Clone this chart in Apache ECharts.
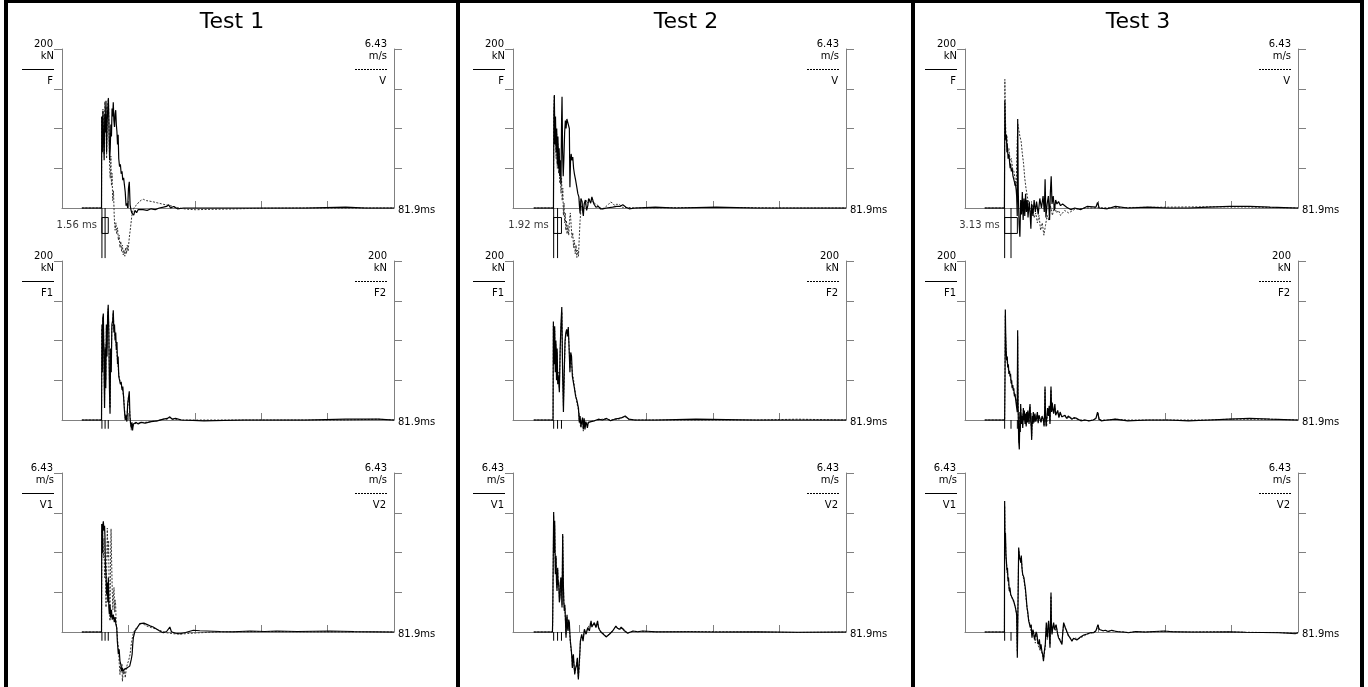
<!DOCTYPE html>
<html>
<head>
<meta charset="utf-8">
<script src="https://cdn.jsdelivr.net/npm/echarts@6/dist/echarts.min.js"></script>
<style>
  html, body { margin: 0; padding: 0; background: #fff; }
  #chart { width: 1368px; height: 687px; }
</style>
</head>
<body>
<div id="chart"></div>
<script>
// ---- data (time in ms, force in kN, velocity in m/s) ----
const tests = ['Test 1', 'Test 2', 'Test 3'];
const durLabels = ['1.56 ms', '1.92 ms', '3.13 ms'];
const markStart = [9.85, 10.0, 9.75];
const markDur = [1.56, 1.92, 3.13];
const timeMax = 81.9;
const timeMaxLabel = '81.9ms';
const timeTicks = [16.38, 32.76, 49.14, 65.52];
const forceMax = 200;
const velMax = 6.43;
const rowNames = [['F', 'V'], ['F1', 'F2'], ['V1', 'V2']];
const rowUnits = [['kN', 'm/s'], ['kN', 'kN'], ['m/s', 'm/s']];
const rowMaxLabels = [['200', '6.43'], ['200', '200'], ['6.43', '6.43']];

// Test 1
const t1F = [[4.9,0],[9.75,0],[9.8,115],[9.95,70],[10.1,122],[10.25,85],[10.4,60],[10.55,118],[10.7,95],[10.85,135],[11.0,70],[11.15,110],[11.3,125],[11.45,138],[11.6,100],[11.75,60],[11.9,75],[12.05,105],[12.2,90],[12.35,125],[12.5,115],[12.65,133],[12.8,110],[12.95,102],[13.1,118],[13.25,123],[13.4,105],[13.55,96],[13.7,80],[13.85,92],[14.0,62],[14.2,52],[14.4,55],[14.6,43],[14.8,46],[15.0,35],[15.2,38],[15.4,29],[15.6,20],[15.8,3],[16.0,6],[16.2,0],[16.4,25],[16.6,33],[16.8,4],[17.0,-2],[17.2,-6],[17.45,-5],[17.7,-9],[18.0,-3],[18.4,-6],[18.8,-2],[19.2,-4],[20,-2],[21,-3],[22,-1],[23,-2],[24,0],[25,1],[25.8,2],[26.3,4],[26.8,0],[27.5,2],[28.5,-1],[30,0],[35,0],[45,0],[60,0],[70,1],[75,0],[81.9,0]];
const t1V = [[4.9,0],[9.75,0],[9.8,3.7],[9.95,2.6],[10.1,4.0],[10.25,3.1],[10.4,2.2],[10.55,4.3],[10.7,3.5],[10.85,4.1],[11.0,2.0],[11.15,3.6],[11.3,4.2],[11.45,4.45],[11.6,3.2],[11.75,1.6],[11.9,1.2],[12.05,2.1],[12.2,0.9],[12.35,1.4],[12.5,0.3],[12.7,0.7],[12.9,-0.4],[13.1,-0.9],[13.3,-0.6],[13.5,-1.05],[13.7,-0.8],[13.9,-1.3],[14.1,-1.1],[14.3,-1.6],[14.5,-1.35],[14.7,-1.75],[14.9,-1.5],[15.1,-1.9],[15.3,-1.7],[15.5,-1.95],[15.7,-1.6],[15.9,-1.85],[16.1,-1.5],[16.3,-1.75],[16.6,-1.2],[16.9,-0.8],[17.2,-0.35],[17.5,-0.1],[17.9,0.05],[18.4,0.12],[19.0,0.25],[19.6,0.32],[20.1,0.35],[20.8,0.3],[21.5,0.28],[22.5,0.25],[23.5,0.21],[24.5,0.17],[25.5,0.13],[26.5,0.1],[27.5,0.06],[28.5,0.02],[29.5,-0.02],[31,-0.05],[33,-0.07],[35,-0.06],[38,-0.05],[42,-0.04],[46,-0.02],[50,-0.01],[60,0],[81.9,0]];
const t1F1 = [[4.9,0],[9.75,0],[9.85,120],[9.95,60],[10.05,128],[10.2,134],[10.35,70],[10.5,15],[10.65,90],[10.8,40],[10.95,120],[11.1,80],[11.25,130],[11.4,145],[11.55,110],[11.7,40],[11.85,8],[12.0,90],[12.15,60],[12.3,120],[12.5,125],[12.65,138],[12.8,110],[12.95,120],[13.1,100],[13.25,110],[13.4,88],[13.55,98],[13.7,70],[13.85,80],[14.0,55],[14.2,50],[14.4,45],[14.6,48],[14.8,38],[15.0,42],[15.2,28],[15.4,12],[15.6,0],[15.8,6],[16.0,-2],[16.2,20],[16.4,28],[16.6,36],[16.75,5],[16.9,-4],[17.1,-10],[17.25,-3],[17.4,-13],[17.6,-5],[17.9,-6],[18.3,-3],[18.8,-5],[19.5,-3],[20.5,-4],[22,-2],[23.5,-1],[25,1],[26,2],[26.6,4],[27.2,1],[28,2],[29.5,0],[35,-1],[45,0],[60,0],[70,1],[78,1],[81.9,0]];
const t1F2 = [[4.9,0],[9.75,0],[9.85,115],[9.95,70],[10.05,124],[10.2,130],[10.35,80],[10.5,25],[10.65,95],[10.8,50],[10.95,115],[11.1,90],[11.25,125],[11.4,140],[11.55,115],[11.7,50],[11.85,15],[12.0,85],[12.15,70],[12.3,115],[12.5,120],[12.65,135],[12.8,115],[12.95,112],[13.1,105],[13.25,104],[13.4,92],[13.55,94],[13.7,74],[13.85,76],[14.0,58],[14.2,52],[14.4,47],[14.6,45],[14.8,40],[15.0,39],[15.2,30],[15.4,15],[15.6,3],[15.8,4],[16.0,0],[16.2,18],[16.4,30],[16.6,32],[16.75,8],[16.9,-2],[17.1,-13],[17.25,-5],[17.4,-10],[17.6,-6],[17.9,-5],[18.3,-4],[18.8,-4],[19.5,-3],[20.5,-3],[22,-2],[23.5,-1],[25,1],[26,1],[26.6,3],[27.2,1],[28,1],[29.5,0],[35,0],[45,0],[60,0],[70,0],[78,1],[81.9,0]];
const t1V1 = [[4.9,0],[9.75,0],[9.8,4.37],[9.95,3.2],[10.05,4.3],[10.2,4.48],[10.35,4.1],[10.5,4.3],[10.6,3.83],[10.7,2.8],[10.86,2.34],[11.0,1.53],[11.15,2.0],[11.3,1.2],[11.43,2.2],[11.55,1.0],[11.68,0.72],[11.85,1.1],[12.0,0.58],[12.2,0.9],[12.4,0.5],[12.66,0.7],[12.9,0.4],[13.1,0.6],[13.3,0.3],[13.5,0.18],[13.65,-0.37],[13.9,-0.9],[14.1,-0.7],[14.3,-1.18],[14.5,-1.3],[14.7,-1.58],[14.9,-1.45],[15.1,-1.6],[15.4,-1.5],[15.8,-1.55],[16.1,-1.45],[16.4,-1.45],[16.7,-1.38],[16.9,-1.31],[17.1,-1.1],[17.3,-0.9],[17.45,-0.5],[17.6,-0.23],[18.0,0.04],[18.6,0.18],[19.2,0.34],[19.65,0.42],[20.2,0.36],[20.9,0.31],[21.7,0.25],[22.5,0.2],[23.5,0.1],[24.3,0.02],[25.0,-0.03],[25.8,0.02],[26.2,0.05],[26.6,0.2],[27.0,0.01],[28,-0.05],[29.1,-0.07],[30.5,-0.02],[32.4,0.07],[34,0.05],[35.7,0.04],[39,0.02],[42.3,0.01],[46.4,0.04],[50,0.02],[53,0.04],[58,0.02],[66.1,0.04],[72,0.02],[81.9,0]];
const t1V2 = [[4.9,0],[9.75,0],[9.85,4.1],[10.03,4.0],[10.2,3.0],[10.36,3.8],[10.5,2.2],[10.7,2.9],[10.86,1.0],[11.0,2.4],[11.18,4.2],[11.35,3.0],[11.5,3.7],[11.65,1.5],[11.84,0.45],[11.95,2.5],[12.1,4.17],[12.25,2.8],[12.4,1.66],[12.55,0.9],[12.7,1.5],[12.83,1.8],[13.0,0.8],[13.1,1.3],[13.24,1.1],[13.35,0.4],[13.5,0.18],[13.7,-0.3],[13.9,-0.64],[14.1,-1.2],[14.3,-1.72],[14.45,-1.4],[14.64,-1.58],[14.8,-1.3],[14.9,-2.0],[15.1,-1.6],[15.3,-1.72],[15.45,-1.5],[15.6,-1.85],[15.85,-1.5],[16.1,-1.31],[16.45,-1.15],[16.8,-0.9],[17.0,-0.6],[17.2,-0.37],[17.6,-0.03],[18.0,0.08],[18.4,0.18],[19.0,0.28],[19.65,0.34],[20.3,0.3],[20.9,0.24],[22,0.18],[23.4,0.11],[24.5,0.04],[25.8,-0.03],[27.5,-0.07],[29.1,-0.09],[31,-0.06],[34,-0.03],[38,0],[42.3,0.01],[50,0.02],[60,0.01],[81.9,0]];

// Test 2
const t2F = [[5.1,0],[9.95,0],[10.05,120],[10.17,142],[10.3,80],[10.45,115],[10.6,70],[10.75,100],[10.9,55],[11.05,90],[11.2,50],[11.35,75],[11.5,40],[11.65,60],[11.8,30],[11.95,110],[12.06,140],[12.2,70],[12.35,40],[12.5,60],[12.7,95],[12.88,110],[13.05,100],[13.25,112],[13.45,108],[13.65,106],[13.86,100],[14.0,26],[14.15,60],[14.3,68],[14.5,60],[14.7,64],[14.9,50],[15.1,43],[15.4,35],[15.7,26],[15.95,18],[16.2,14],[16.35,2],[16.5,-7],[16.7,12],[17.0,8],[17.15,-5],[17.3,-10],[17.5,5],[17.8,10],[18.1,-3],[18.4,3],[18.6,12],[18.8,10],[19.1,6],[19.4,14],[19.6,12],[19.9,5],[20.4,1],[21.0,2],[21.5,-1],[22.1,-1],[23,0],[24.5,1],[25.5,2],[26.3,2],[27,4],[27.8,1],[28.6,-1],[30,0],[35,1],[40,0],[50,1],[60,0],[81.9,0]];
const t2V = [[5.1,0],[9.95,0],[10.05,3.8],[10.17,4.55],[10.3,2.6],[10.45,3.4],[10.6,2.0],[10.75,3.0],[10.9,1.6],[11.05,2.6],[11.2,1.4],[11.35,2.2],[11.5,1.0],[11.65,1.6],[11.8,0.6],[11.95,1.2],[12.1,0.3],[12.25,0.8],[12.4,-0.3],[12.55,0.2],[12.7,-0.6],[12.85,-0.2],[13.0,-0.9],[13.15,-0.5],[13.3,-1.05],[13.5,-0.7],[13.7,-1.1],[13.9,-0.5],[14.1,-0.2],[14.3,-0.7],[14.5,-1.2],[14.7,-1.0],[14.9,-1.6],[15.1,-1.3],[15.3,-1.85],[15.5,-1.5],[15.7,-2.0],[15.9,-1.7],[16.1,-1.95],[16.3,-1.2],[16.5,-0.5],[16.7,-0.1],[16.9,0.1],[17.2,-0.05],[17.5,-0.1],[17.8,0.15],[18.1,0.3],[18.4,0.2],[18.8,0.35],[19.2,0.38],[19.6,0.25],[20.0,0.3],[20.4,0.15],[20.9,0.1],[21.5,0.0],[22.1,-0.03],[22.8,0.05],[23.5,0.15],[24.0,0.24],[24.5,0.2],[25.0,0.1],[25.5,0.15],[26.2,0.14],[27.0,0.02],[28.5,0.02],[30,0.0],[35,0.01],[45,0.02],[55,0.02],[65,0.0],[81.9,0]];
const t2F1 = [[5.1,0],[9.85,0],[9.93,124],[10.1,70],[10.25,118],[10.4,60],[10.55,100],[10.7,50],[10.85,90],[11.0,45],[11.2,55],[11.4,35],[11.6,90],[11.8,120],[12.0,142],[12.2,60],[12.4,10],[12.6,60],[12.8,100],[13.0,110],[13.2,114],[13.4,105],[13.6,117],[13.8,90],[14.0,60],[14.2,85],[14.4,80],[14.6,55],[14.85,55],[15.1,40],[15.4,30],[15.7,25],[16.1,15],[16.3,-3],[16.5,5],[16.7,-8],[16.9,-7],[17.1,3],[17.3,-12],[17.5,2],[17.7,-12],[17.9,-2],[18.1,-5],[18.3,-10],[18.5,-3],[18.8,-4],[19.2,-2],[20,-1],[21,1],[22,0],[23,2],[24,-1],[25,1],[26,2],[26.8,3],[27.6,5],[28.5,1],[30,0],[35,0],[45,1],[60,0],[70,0],[81.9,0]];
const t2F2 = [[5.1,0],[9.85,0],[9.93,118],[10.1,80],[10.25,112],[10.4,70],[10.55,95],[10.7,60],[10.85,85],[11.0,50],[11.2,60],[11.4,40],[11.6,85],[11.8,115],[12.0,136],[12.2,70],[12.4,18],[12.6,55],[12.8,95],[13.0,108],[13.2,110],[13.4,108],[13.6,112],[13.8,92],[14.0,65],[14.2,80],[14.4,78],[14.6,60],[14.85,52],[15.1,42],[15.4,32],[15.7,22],[16.1,12],[16.3,0],[16.5,2],[16.7,-10],[16.9,-5],[17.1,0],[17.3,-14],[17.5,0],[17.7,-10],[17.9,-4],[18.1,-6],[18.3,-8],[18.5,-4],[18.8,-3],[19.2,-2],[20,-1],[21,0],[22,1],[23,1],[24,0],[25,1],[26,1],[26.8,3],[27.6,4],[28.5,1],[30,0],[35,0],[45,0],[60,0],[70,1],[81.9,0]];
const t2V1 = [[5.1,0],[9.7,0],[9.76,0.5],[10.0,4.85],[10.12,3.2],[10.25,4.5],[10.42,2.34],[10.58,3.08],[10.7,2.0],[10.83,1.66],[10.99,2.6],[11.1,1.9],[11.24,2.0],[11.4,1.2],[11.57,1.4],[11.75,2.2],[11.9,2.1],[12.06,0.99],[12.22,3.96],[12.39,1.9],[12.5,1.2],[12.63,0.85],[12.75,1.1],[12.88,0.58],[13.04,-0.23],[13.15,0.4],[13.29,0.7],[13.4,0.2],[13.54,0.04],[13.7,0.5],[13.86,0.38],[14.0,-0.1],[14.11,-0.37],[14.25,-0.3],[14.36,-0.77],[14.5,-1.1],[14.6,-1.45],[14.72,-1.0],[14.85,-0.9],[15.0,-1.3],[15.18,-1.72],[15.35,-1.5],[15.5,-1.58],[15.65,-1.3],[15.83,-1.04],[15.95,-1.6],[16.08,-1.92],[16.2,-1.5],[16.33,-1.45],[16.45,-0.8],[16.57,-0.37],[16.9,-0.1],[17.23,-0.37],[17.56,0.11],[17.97,-0.09],[18.38,0.18],[18.79,0.04],[19.2,0.45],[19.4,0.2],[19.6,0.24],[20.0,0.38],[20.4,0.18],[20.8,0.45],[21.0,0.2],[21.2,0.11],[21.6,0.0],[22.1,-0.07],[22.5,-0.15],[22.9,-0.2],[23.3,-0.15],[23.7,-0.09],[24.5,0.04],[25.3,0.24],[25.7,0.15],[26.2,0.11],[26.6,0.2],[27.0,0.2],[27.4,0.05],[27.8,0.01],[28.2,-0.05],[28.6,-0.07],[29.5,0.04],[30.7,0.01],[31.9,0.04],[35.2,0.01],[43.4,0.01],[50,0.0],[60,0.01],[70,-0.01],[81.9,0]];
const t2V2 = [[5.1,0],[9.7,0],[9.76,0.3],[10.0,4.7],[10.12,3.4],[10.25,4.3],[10.42,2.6],[10.58,3.0],[10.7,2.2],[10.83,1.8],[10.99,2.5],[11.1,2.0],[11.24,2.1],[11.4,1.4],[11.57,1.5],[11.75,2.0],[11.9,2.2],[12.06,1.1],[12.22,3.9],[12.39,2.0],[12.5,1.3],[12.63,0.9],[12.75,1.0],[12.88,0.5],[13.04,-0.1],[13.15,0.3],[13.29,0.6],[13.4,0.3],[13.54,0.1],[13.7,0.4],[13.86,0.3],[14.0,-0.2],[14.11,-0.45],[14.25,-0.4],[14.36,-0.85],[14.5,-1.0],[14.6,-1.4],[14.72,-1.1],[14.85,-1.0],[15.0,-1.4],[15.18,-1.65],[15.35,-1.55],[15.5,-1.5],[15.65,-1.35],[15.83,-1.1],[15.95,-1.5],[16.08,-1.85],[16.2,-1.6],[16.33,-1.35],[16.45,-0.9],[16.57,-0.4],[16.9,-0.15],[17.23,-0.3],[17.56,0.05],[17.97,-0.05],[18.38,0.15],[18.79,0.08],[19.2,0.4],[19.4,0.25],[19.6,0.2],[20.0,0.35],[20.4,0.2],[20.8,0.4],[21.0,0.22],[21.2,0.12],[21.6,0.02],[22.1,-0.05],[22.5,-0.12],[22.9,-0.18],[23.3,-0.14],[23.7,-0.08],[24.5,0.05],[25.3,0.22],[25.7,0.16],[26.2,0.1],[26.6,0.18],[27.0,0.17],[27.4,0.06],[27.8,0.0],[28.2,-0.04],[28.6,-0.06],[29.5,0.03],[30.7,0.02],[31.9,0.03],[35.2,0.0],[43.4,0.02],[50,0.01],[60,0.0],[70,-0.02],[81.9,0]];

// Test 3
const t3F = [[4.85,0],[9.7,0],[9.8,135],[9.95,95],[10.1,85],[10.2,92],[10.3,70],[10.4,80],[10.5,78],[10.6,62],[10.7,60],[10.8,68],[10.9,62],[11.0,55],[11.1,50],[11.2,56],[11.3,55],[11.4,46],[11.5,45],[11.6,50],[11.7,48],[11.8,40],[11.9,38],[12.0,42],[12.1,40],[12.2,32],[12.3,28],[12.4,31],[12.5,30],[12.6,22],[12.7,15],[12.85,-10],[12.96,112],[13.1,20],[13.3,-20],[13.5,-36],[13.7,10],[13.9,-8],[14.1,20],[14.3,-15],[14.5,12],[14.7,-10],[14.9,18],[15.1,-5],[15.3,10],[15.5,-12],[15.8,8],[16.0,-5],[16.2,-26],[16.4,5],[16.7,-10],[17.0,10],[17.3,-5],[17.6,8],[18.0,-8],[18.4,12],[18.8,0],[19.2,15],[19.5,-5],[19.7,36],[19.9,-12],[20.2,5],[20.5,15],[20.8,-15],[21.0,20],[21.2,40],[21.4,5],[21.7,15],[22.0,-3],[22.3,10],[22.6,5],[23.0,8],[23.5,3],[24,5],[25,1],[26,-2],[27,0],[28.5,-2],[30,2],[32.2,1],[32.6,7],[33,0],[35,-1],[37,2],[40,0],[45,1],[50,0],[55,0],[60,1],[65,2],[70,2],[75,1],[81.9,0]];
const t3V = [[4.85,0],[9.7,0],[9.8,5.2],[9.95,3.6],[10.1,2.8],[10.3,2.9],[10.5,2.3],[10.8,2.4],[11.1,1.9],[11.4,2.0],[11.7,1.6],[12.0,1.5],[12.3,1.2],[12.6,0.9],[12.8,2.5],[13.0,3.4],[13.2,3.2],[13.5,2.9],[13.8,2.7],[14.1,2.2],[14.4,1.8],[14.7,1.2],[15.0,0.8],[15.4,0.4],[15.8,0.1],[16.2,-0.3],[16.6,0.1],[17.0,-0.4],[17.4,-0.2],[17.8,-0.6],[18.2,-0.3],[18.6,-0.9],[19.0,-0.6],[19.4,-1.1],[19.8,-0.7],[20.2,-0.3],[20.6,-0.5],[21.0,0.1],[21.5,-0.3],[22.0,0.1],[22.5,-0.2],[23.0,-0.1],[23.5,-0.3],[24.5,-0.1],[25.5,-0.2],[27,-0.05],[30,0.0],[40,0.02],[60,0.05],[70,0.04],[81.9,0]];
const t3F1 = [[4.85,0],[9.75,0],[9.85,60],[9.92,139],[10.0,110],[10.1,90],[10.25,75],[10.4,80],[10.5,66],[10.66,70],[10.8,58],[10.95,62],[11.07,55],[11.2,58],[11.35,46],[11.48,50],[11.6,40],[11.75,44],[11.89,37],[12.0,40],[12.15,30],[12.3,33],[12.45,26],[12.6,28],[12.71,25],[12.85,10],[12.95,113],[13.05,20],[13.2,-25],[13.36,-37],[13.5,10],[13.6,-15],[13.69,20],[13.85,-5],[14.02,5],[14.2,-10],[14.35,15],[14.5,0],[14.6,12],[14.76,-5],[14.9,8],[15.05,-8],[15.17,10],[15.35,-3],[15.45,12],[15.58,5],[15.75,-5],[15.85,12],[15.99,20],[16.15,0],[16.3,-10],[16.4,-25],[16.55,5],[16.7,-5],[16.8,10],[17.0,-3],[17.2,8],[17.4,-2],[17.6,2],[17.8,10],[18.0,-4],[18.2,6],[18.45,7],[18.7,-3],[18.95,5],[19.27,0],[19.45,-8],[19.6,12],[19.68,42],[19.8,5],[19.95,-8],[20.1,-10],[20.3,15],[20.5,5],[20.7,18],[20.9,-5],[21.05,25],[21.15,42],[21.3,10],[21.45,22],[21.6,15],[21.8,8],[22.1,20],[22.3,6],[22.55,5],[22.8,12],[23.1,3],[23.4,10],[23.8,4],[24.2,2],[24.6,6],[25.0,2],[25.4,5],[25.8,5],[26.3,1],[26.8,3],[27.5,2],[28.5,-1],[29.5,0],[30.5,-1],[31.5,0],[32.2,2],[32.6,10],[33.0,1],[33.5,-1],[35,0],[37,1],[40,-1],[45,0],[50,0],[55,-1],[60,0],[65,1],[70,2],[75,1],[81.9,0]];
const t3F2 = [[4.85,0],[9.75,0],[9.85,70],[9.92,132],[10.0,105],[10.1,92],[10.25,78],[10.4,76],[10.5,68],[10.66,66],[10.8,60],[10.95,58],[11.07,56],[11.2,54],[11.35,48],[11.48,47],[11.6,42],[11.75,41],[11.89,38],[12.0,36],[12.15,32],[12.3,30],[12.45,27],[12.6,26],[12.71,24],[12.85,15],[12.95,105],[13.05,25],[13.2,-20],[13.36,-30],[13.5,5],[13.6,-10],[13.69,15],[13.85,-2],[14.02,8],[14.2,-6],[14.35,12],[14.5,2],[14.6,10],[14.76,-2],[14.9,6],[15.05,-6],[15.17,8],[15.35,0],[15.45,10],[15.58,4],[15.75,-3],[15.85,10],[15.99,16],[16.15,2],[16.3,-8],[16.4,-20],[16.55,2],[16.7,-3],[16.8,8],[17.0,-1],[17.2,6],[17.4,0],[17.6,3],[17.8,8],[18.0,-2],[18.2,5],[18.45,6],[18.7,-2],[18.95,4],[19.27,1],[19.45,-6],[19.6,10],[19.68,38],[19.8,6],[19.95,-5],[20.1,-8],[20.3,12],[20.5,6],[20.7,15],[20.9,-2],[21.05,20],[21.15,38],[21.3,12],[21.45,18],[21.6,13],[21.8,9],[22.1,16],[22.3,7],[22.55,6],[22.8,10],[23.1,4],[23.4,8],[23.8,4],[24.2,3],[24.6,5],[25.0,2],[25.4,4],[25.8,4],[26.3,2],[26.8,2],[27.5,1],[28.5,0],[29.5,0],[30.5,-1],[31.5,0],[32.2,2],[32.6,8],[33.0,1],[33.5,0],[35,0],[37,1],[40,0],[45,0],[50,0],[55,0],[60,0],[65,1],[70,1],[75,1],[81.9,0]];
const t3V1 = [[4.85,0],[9.7,0],[9.75,5.3],[9.85,3.6],[9.95,4.0],[10.08,3.13],[10.2,2.8],[10.33,2.48],[10.45,2.6],[10.57,2.07],[10.7,2.2],[10.9,1.66],[11.05,1.8],[11.23,1.53],[11.4,1.6],[11.56,1.39],[11.75,1.45],[11.97,1.26],[12.15,1.3],[12.38,1.0],[12.55,1.05],[12.7,0.72],[12.87,-1.04],[13.03,1.0],[13.2,3.42],[13.4,3.04],[13.6,3.04],[13.75,2.8],[13.85,3.09],[14.0,2.6],[14.18,2.34],[14.35,2.4],[14.5,2.2],[14.65,2.0],[14.84,1.79],[15.05,1.4],[15.25,0.99],[15.45,0.8],[15.66,0.45],[15.85,0.5],[16.07,0.18],[16.25,0.3],[16.48,-0.23],[16.7,0.1],[16.89,-0.03],[17.1,-0.3],[17.3,-0.37],[17.5,0.0],[17.7,-0.1],[17.9,-0.4],[18.1,-0.5],[18.3,-0.3],[18.5,-0.7],[18.7,-0.5],[18.9,-0.77],[19.1,-0.9],[19.3,-1.18],[19.5,-0.8],[19.75,-0.5],[20.0,0.38],[20.15,-0.1],[20.3,-0.23],[20.45,0.3],[20.57,0.45],[20.75,0.0],[20.9,-0.64],[21.05,0.5],[21.15,1.6],[21.25,0.3],[21.4,-0.1],[21.6,0.2],[21.8,0.38],[22.0,0.1],[22.2,0.11],[22.4,0.3],[22.6,0.24],[22.8,-0.1],[23.0,-0.23],[23.4,-0.35],[23.85,-0.5],[24.05,0.0],[24.26,0.38],[24.45,0.3],[24.67,0.18],[25.1,0.0],[25.5,-0.16],[25.9,-0.25],[26.3,-0.37],[26.7,-0.25],[27.1,-0.23],[27.5,-0.32],[27.95,-0.3],[28.4,-0.2],[28.8,-0.23],[29.2,-0.12],[29.6,-0.16],[30.0,-0.08],[30.4,-0.09],[31.0,-0.02],[31.6,-0.03],[32.2,0.05],[32.7,0.3],[33.0,0.1],[33.3,0.04],[34.0,0.05],[34.5,0.07],[35.2,0.02],[36.1,0.07],[37.0,0.03],[37.8,0.01],[39.0,0.0],[40.2,-0.03],[42.0,0.02],[44.3,0.0],[46.5,0.02],[49,0.04],[51,0.01],[52.5,0.01],[56,0.0],[60.7,0.0],[65,0.01],[68.9,-0.01],[73,-0.02],[77.1,-0.03],[79.5,-0.05],[81.2,-0.07],[81.9,-0.03]];
const t3V2 = [[4.85,0],[9.7,0],[9.75,5.1],[9.85,3.4],[9.95,3.8],[10.08,3.0],[10.2,2.9],[10.33,2.4],[10.45,2.5],[10.57,2.1],[10.7,2.1],[10.9,1.7],[11.05,1.7],[11.23,1.5],[11.4,1.5],[11.56,1.4],[11.75,1.4],[11.97,1.2],[12.15,1.2],[12.38,1.0],[12.55,0.9],[12.7,0.6],[12.87,-0.8],[13.03,1.2],[13.2,3.3],[13.4,3.1],[13.6,2.9],[13.75,2.9],[13.85,3.0],[14.0,2.7],[14.18,2.3],[14.35,2.3],[14.5,2.1],[14.65,1.9],[14.84,1.7],[15.05,1.3],[15.25,1.0],[15.45,0.7],[15.66,0.5],[15.85,0.4],[16.07,0.2],[16.25,0.2],[16.48,-0.15],[16.7,0.0],[16.89,-0.1],[17.1,-0.25],[17.3,-0.45],[17.5,-0.1],[17.7,-0.2],[17.9,-0.5],[18.1,-0.55],[18.3,-0.45],[18.5,-0.75],[18.7,-0.6],[18.9,-0.85],[19.1,-0.95],[19.3,-1.12],[19.5,-0.9],[19.75,-0.6],[20.0,0.2],[20.15,-0.2],[20.3,-0.3],[20.45,0.2],[20.57,0.35],[20.75,-0.1],[20.9,-0.5],[21.05,0.4],[21.15,1.45],[21.25,0.35],[21.4,0.0],[21.6,0.15],[21.8,0.3],[22.0,0.15],[22.2,0.05],[22.4,0.25],[22.6,0.2],[22.8,-0.05],[23.0,-0.2],[23.4,-0.3],[23.85,-0.45],[24.05,-0.05],[24.26,0.3],[24.45,0.28],[24.67,0.15],[25.1,-0.02],[25.5,-0.2],[25.9,-0.28],[26.3,-0.33],[26.7,-0.28],[27.1,-0.25],[27.5,-0.28],[27.95,-0.27],[28.4,-0.22],[28.8,-0.2],[29.2,-0.14],[29.6,-0.13],[30.0,-0.1],[30.4,-0.07],[31.0,-0.04],[31.6,-0.02],[32.2,0.03],[32.7,0.25],[33.0,0.12],[33.3,0.05],[34.0,0.04],[34.5,0.06],[35.2,0.03],[36.1,0.05],[37.0,0.03],[37.8,0.02],[39.0,0.0],[40.2,-0.02],[42.0,0.01],[44.3,0.0],[46.5,0.01],[49,0.03],[51,0.02],[52.5,0.0],[56,0.0],[60.7,0.01],[65,0.0],[68.9,-0.01],[73,-0.02],[77.1,-0.02],[79.5,-0.04],[81.2,-0.05],[81.9,-0.03]];

const traces = [
  [[t1F, t1V], [t1F1, t1F2], [t1V1, t1V2]],
  [[t2F, t2V], [t2F1, t2F2], [t2V1, t2V2]],
  [[t3F, t3V], [t3F1, t3F2], [t3V1, t3V2]]
];
const rowMax = [[forceMax, velMax], [forceMax, forceMax], [velMax, velMax]];

// ---- layout ----
const colLeft = [62, 513, 965];
const colWidth = [332, 333, 333];
const colCenter = [232, 686, 1138];
const rowTop = [49, 261, 473];
const rowHeight = 159;
const font = '"DejaVu Sans"';
const gray = '#808080';

const grids = [], xAxes = [], yAxes = [], series = [], graphics = [];

function yAxisDef(g, pos, max) {
  return {
    type: 'value', gridIndex: g, position: pos, min: 0, max: max, interval: max / 4,
    axisLine: { show: true, lineStyle: { color: gray, width: 1 } },
    axisTick: { show: true, length: 8, customValues: [1, 2, 3, 4].map(k => max * k / 4), lineStyle: { color: gray } },
    axisLabel: { show: false },
    splitLine: { show: false }
  };
}

function markerSeries(g, yi, data) {
  return {
    type: 'line', xAxisIndex: g, yAxisIndex: yi, data: data, clip: false, silent: true,
    symbol: 'none', animation: false, z: 4,
    lineStyle: { color: '#000', width: 1 }
  };
}

function text(x, y, str, size, align) {
  return {
    type: 'text', x: x, y: y, silent: true,
    style: { text: str, font: size + 'px ' + font, fill: '#000', align: align, verticalAlign: 'middle' }
  };
}

// frame
[[4, 0, 1360, 3], [4, 0, 4, 687], [456, 0, 4, 687], [911, 0, 4, 687], [1360, 0, 4, 687]].forEach(r => {
  graphics.push({ type: 'rect', silent: true, shape: { x: r[0], y: r[1], width: r[2], height: r[3] }, style: { fill: '#000' } });
});

tests.forEach((title, c) => {
  const L = colLeft[c], W = colWidth[c], R = L + W;
  graphics.push(text(colCenter[c], 22, title, 22, 'center'));

  for (let r = 0; r < 3; r++) {
    const g = c * 3 + r;
    const T = rowTop[r], H = rowHeight;
    const [lMax, rMax] = rowMax[r];
    grids.push({ left: L, top: T, width: W, height: H });
    xAxes.push({
      type: 'value', gridIndex: g, min: 0, max: timeMax, interval: timeMax / 5,
      axisLine: { lineStyle: { color: gray, width: 1 } },
      axisTick: { inside: true, length: 7, customValues: timeTicks, lineStyle: { color: gray } },
      axisLabel: { show: false },
      splitLine: { show: false }
    });
    yAxes.push(yAxisDef(g, 'left', lMax), yAxisDef(g, 'right', rMax));

    const [solid, dashed] = traces[c][r];
    series.push({
      type: 'line', xAxisIndex: g, yAxisIndex: 2 * g + 1, data: dashed, clip: false, silent: true,
      symbol: 'none', z: 3, lineStyle: { color: '#333', width: 1, type: [2, 1.5] }
    });
    series.push({
      type: 'line', xAxisIndex: g, yAxisIndex: 2 * g, data: solid, clip: false, silent: true,
      symbol: 'none', z: 3, lineStyle: { color: '#000', width: 1.2 }
    });

    const s = markStart[c], d = markDur[c];
    if (r === 0) {
      const deep = -0.315 * lMax, boxTop = -0.06 * lMax, boxBot = -0.16 * lMax;
      series.push(markerSeries(g, 2 * g, [[s, 0], [s, deep]]));
      series.push(markerSeries(g, 2 * g, [[s + d / 2, 0], [s + d / 2, deep]]));
      series.push(markerSeries(g, 2 * g, [[s, boxTop], [s + d, boxTop], [s + d, boxBot], [s, boxBot], [s, boxTop]]));
      series.push({
        type: 'scatter', xAxisIndex: g, yAxisIndex: 2 * g, data: [[s, (boxTop + boxBot) / 2]],
        symbolSize: 0, clip: false, silent: true,
        label: { show: true, position: 'left', distance: 5, formatter: durLabels[c], fontFamily: 'DejaVu Sans', fontSize: 10, color: '#000' }
      });
    } else {
      const tick = -0.055 * lMax;
      [s, s + d / 2, s + d].forEach(t => series.push(markerSeries(g, 2 * g, [[t, 0], [t, tick]])));
    }

    // left header
    graphics.push(text(L - 9, T - 5, rowMaxLabels[r][0], 10, 'right'));
    graphics.push(text(L - 8, T + 7, rowUnits[r][0], 10, 'right'));
    graphics.push({ type: 'line', silent: true, shape: { x1: L - 40, y1: T + 20.5, x2: L - 8, y2: T + 20.5 }, style: { stroke: '#000', lineWidth: 1 } });
    graphics.push(text(L - 9, T + 32, rowNames[r][0], 10, 'right'));
    // right header
    graphics.push(text(R - 7, T - 5, rowMaxLabels[r][1], 10, 'right'));
    graphics.push(text(R - 7, T + 7, rowUnits[r][1], 10, 'right'));
    graphics.push({ type: 'line', silent: true, shape: { x1: R - 39, y1: T + 20.5, x2: R - 7, y2: T + 20.5 }, style: { stroke: '#000', lineWidth: 1, lineDash: [2, 1] } });
    graphics.push(text(R - 8, T + 32, rowNames[r][1], 10, 'right'));
    // time end label
    graphics.push(text(R + 4, T + H + 2, timeMaxLabel, 10, 'left'));
  }
});

const chart = echarts.init(document.getElementById('chart'));
chart.setOption({
  animation: false,
  backgroundColor: '#fff',
  grid: grids,
  xAxis: xAxes,
  yAxis: yAxes,
  series: series,
  graphic: graphics
});
</script>
</body>
</html>
